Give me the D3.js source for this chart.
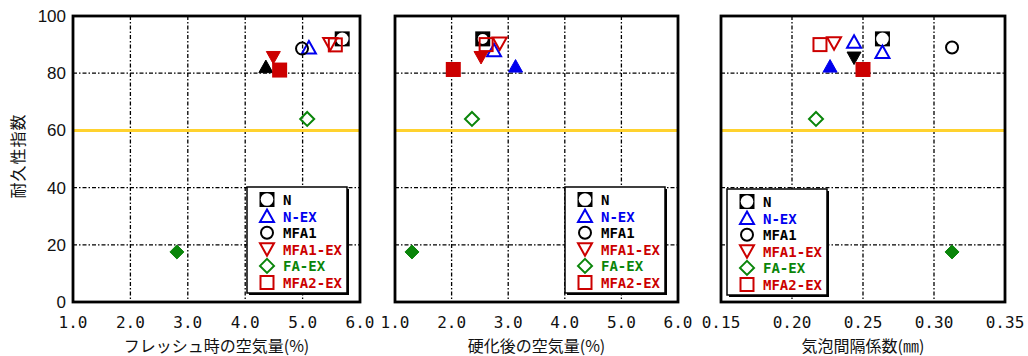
<!DOCTYPE html>
<html lang="ja">
<head>
<meta charset="UTF-8">
<title>耐久性指数</title>
<script src="https://cdn.jsdelivr.net/npm/d3@7"></script>
<style>
  body { margin: 0; background: #fff; }
  svg { display: block; }
</style>
</head>
<body>
<svg id="chart" width="1028" height="356"></svg>
<script>
// 凡例の系列
const seriesNames = ["N", "N-EX", "MFA1", "MFA1-EX", "FA-EX", "MFA2-EX"];

// 各パネルの点 [系列, x, 耐久性指数]  (* は塗りつぶしマーカー)
const flashAir = [
  ["N", 5.69, 92], ["N-EX", 5.11, 89], ["MFA1", 4.99, 88.6], ["MFA1-EX", 5.48, 90.2],
  ["FA-EX", 5.08, 64], ["MFA2-EX", 5.57, 89.9],
  ["K-up*", 4.36, 82.3], ["MFA1-EX*", 4.49, 85.5], ["MFA2-EX*", 4.60, 81.1], ["FA-EX*", 2.81, 17.5]
];
const hardenedAir = [
  ["N", 2.55, 92], ["MFA1", 2.55, 92], ["N-EX", 2.75, 88], ["MFA1-EX", 2.85, 90.4],
  ["FA-EX", 2.36, 64], ["MFA2-EX", 2.61, 90],
  ["MFA1-EX*", 2.52, 85.5], ["N-EX*", 3.13, 82.5], ["MFA2-EX*", 2.03, 81.3], ["FA-EX*", 1.30, 17.5]
];
const spacingFactor = [
  ["N", 0.2637, 92], ["N-EX", 0.2437, 91], ["N-EX", 0.2637, 87.4], ["MFA1", 0.3127, 89],
  ["MFA1-EX", 0.2296, 90.5], ["FA-EX", 0.2169, 64], ["MFA2-EX", 0.2197, 90],
  ["N-EX*", 0.2268, 82.5], ["K-down*", 0.2437, 85.3], ["MFA2-EX*", 0.25, 81.3], ["FA-EX*", 0.3127, 17.5]
];

const yTicks = [0, 20, 40, 60, 80, 100];
const airTicks = [1, 2, 3, 4, 5, 6];
const spacingTicks = [0.15, 0.20, 0.25, 0.30, 0.35];
const limitLine = 60;

// マーカーの形と色
const style = {
  "N":        { shape: "sqc",     color: "#000000", fill: false },
  "N-EX":     { shape: "triU",    color: "#0000ee", fill: false },
  "MFA1":     { shape: "circle",  color: "#000000", fill: false },
  "MFA1-EX":  { shape: "triD",    color: "#cc0000", fill: false },
  "FA-EX":    { shape: "diamond", color: "#0a850a", fill: false },
  "MFA2-EX":  { shape: "square",  color: "#cc0000", fill: false },
  "N-EX*":    { shape: "triU",    color: "#0000ee", fill: true },
  "MFA1-EX*": { shape: "triD",    color: "#cc0000", fill: true },
  "MFA2-EX*": { shape: "square",  color: "#cc0000", fill: true },
  "FA-EX*":   { shape: "diamond", color: "#0a850a", fill: true },
  "K-up*":    { shape: "triU",    color: "#000000", fill: true },
  "K-down*":  { shape: "triD",    color: "#000000", fill: true }
};

const svg = d3.select("#chart");
const plotTop = 16, plotBottom = 302;
const y = d3.scaleLinear().domain([0, 100]).range([plotBottom, plotTop]);

const panels = [
  { data: flashAir, x0: 73, x1: 360, domain: [1, 6], ticks: airTicks, fmt: d3.format(".1f"),
    label: "フレッシュ時の空気量(%)", legend: [247, 187], yLabels: true },
  { data: hardenedAir, x0: 395, x1: 678, domain: [1, 6], ticks: airTicks, fmt: d3.format(".1f"),
    label: "硬化後の空気量(%)", legend: [565, 187], yLabels: false },
  { data: spacingFactor, x0: 721, x1: 1005, domain: [0.15, 0.35], ticks: spacingTicks, fmt: d3.format(".2f"),
    label: "気泡間隔係数(㎜)", legend: [727, 189], yLabels: false }
];

function drawMarker(g, key, cx, cy) {
  const s = style[key];
  const sw = 2;
  if (s.shape === "sqc") {
    g.append("rect").attr("x", cx - 7.5).attr("y", cy - 7.5).attr("width", 15).attr("height", 15).attr("fill", "#000");
    g.append("circle").attr("cx", cx).attr("cy", cy).attr("r", 6.3).attr("fill", "#fff");
  } else if (s.shape === "circle") {
    g.append("circle").attr("cx", cx).attr("cy", cy).attr("r", 6).attr("fill", "none")
      .attr("stroke", s.color).attr("stroke-width", sw);
  } else if (s.shape === "square") {
    const h = s.fill ? 7.5 : 6.5;
    g.append("rect").attr("x", cx - h).attr("y", cy - h).attr("width", 2 * h).attr("height", 2 * h)
      .attr("fill", s.fill ? s.color : "none").attr("stroke", s.color).attr("stroke-width", s.fill ? 0 : sw);
  } else {
    let pts;
    if (s.shape === "triU") pts = [[cx, cy - 6.5], [cx + 7, cy + 6], [cx - 7, cy + 6]];
    else if (s.shape === "triD") pts = [[cx - 7, cy - 6], [cx + 7, cy - 6], [cx, cy + 6.5]];
    else pts = [[cx, cy - 7], [cx + 7, cy], [cx, cy + 7], [cx - 7, cy]];
    g.append("path").attr("d", d3.line()(pts) + "Z")
      .attr("fill", s.fill ? s.color : "none").attr("stroke", s.color)
      .attr("stroke-width", s.fill ? 1 : sw).attr("stroke-linejoin", "miter");
  }
}

panels.forEach(p => {
  const x = d3.scaleLinear().domain(p.domain).range([p.x0, p.x1]);
  const g = svg.append("g");

  // グリッド (一点鎖線)
  g.selectAll(".vg").data(p.ticks.slice(1, -1)).join("line")
    .attr("x1", d => x(d)).attr("x2", d => x(d)).attr("y1", plotTop).attr("y2", plotBottom)
    .attr("stroke", "#000").attr("stroke-width", 1.3).attr("stroke-dasharray", "4,2,1.5,2");
  g.selectAll(".hg").data(yTicks.slice(1, -1)).join("line")
    .attr("x1", p.x0).attr("x2", p.x1).attr("y1", d => y(d)).attr("y2", d => y(d))
    .attr("stroke", "#000").attr("stroke-width", 1.3).attr("stroke-dasharray", "4,2,1.5,2");

  // 基準線 60
  g.append("line").attr("x1", p.x0).attr("x2", p.x1).attr("y1", y(limitLine)).attr("y2", y(limitLine))
    .attr("stroke", "#ffd22e").attr("stroke-width", 3);

  // 枠
  g.append("rect").attr("x", p.x0).attr("y", plotTop).attr("width", p.x1 - p.x0).attr("height", plotBottom - plotTop)
    .attr("fill", "none").attr("stroke", "#000").attr("stroke-width", 2.8);

  // x 目盛
  g.selectAll(".xt").data(p.ticks).join("text")
    .attr("x", d => x(d)).attr("y", 328).attr("text-anchor", "middle")
    .attr("font-family", "DejaVu Sans Mono").attr("font-size", 16).attr("fill", "#111")
    .text(d => p.fmt(d));

  g.append("text").attr("x", (p.x0 + p.x1) / 2).attr("y", 352).attr("text-anchor", "middle")
    .attr("font-family", "Noto Sans CJK JP").attr("font-size", 16).attr("fill", "#111")
    .text(p.label);

  if (p.yLabels) {
    g.selectAll(".yt").data(yTicks).join("text")
      .attr("x", 66).attr("y", d => y(d) + 6).attr("text-anchor", "end")
      .attr("font-family", "Liberation Sans").attr("font-size", 17).attr("fill", "#111")
      .text(d => d);
  }

  // 点
  const pg = g.append("g");
  p.data.forEach(d => drawMarker(pg, d[0], x(d[1]), y(d[2])));

  // 凡例
  const [lx, ly] = p.legend;
  const lg = g.append("g");
  lg.append("rect").attr("x", lx + 2).attr("y", ly + 2).attr("width", 100).attr("height", 106).attr("fill", "#000");
  lg.append("rect").attr("x", lx).attr("y", ly).attr("width", 100).attr("height", 106)
    .attr("fill", "#fff").attr("stroke", "#000").attr("stroke-width", 1.5);
  seriesNames.forEach((name, i) => {
    const cy = ly + 12.5 + i * 16.6;
    drawMarker(lg, name, lx + 20, cy);
    lg.append("text").attr("x", lx + 36).attr("y", cy + 5.5)
      .attr("font-family", "DejaVu Sans Mono").attr("font-weight", "bold").attr("font-size", 14)
      .attr("fill", style[name].color).text(name);
  });
});

// y 軸ラベル
svg.append("text").attr("transform", "translate(24,156) rotate(-90)").attr("text-anchor", "middle")
  .attr("font-family", "Noto Sans CJK JP").attr("font-size", 16).attr("fill", "#111")
  .attr("letter-spacing", 1).text("耐久性指数");
</script>
</body>
</html>
